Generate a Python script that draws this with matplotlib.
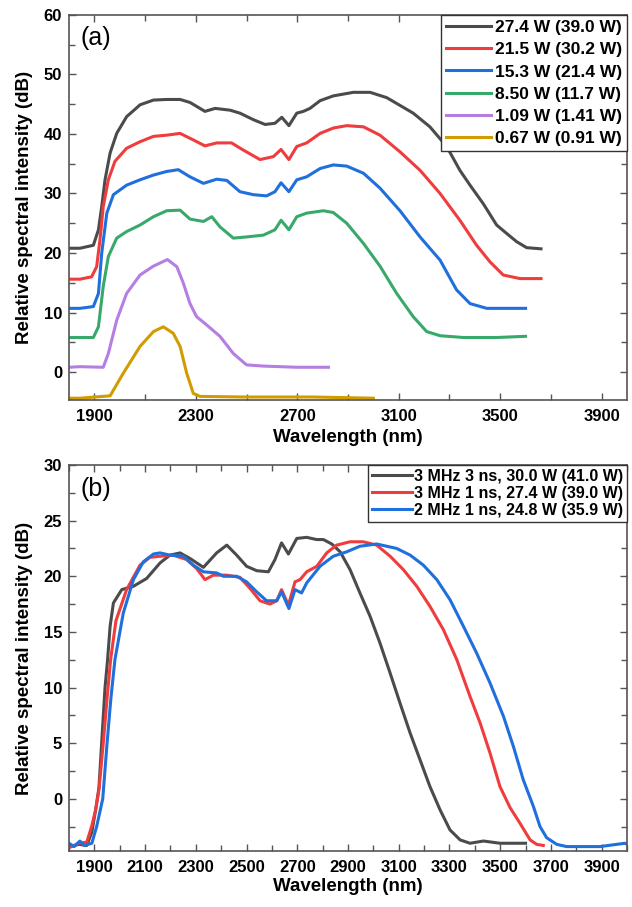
import matplotlib
matplotlib.use("Agg")
import matplotlib.pyplot as plt
from matplotlib.ticker import FixedLocator, MultipleLocator

plt.rcParams["font.family"] = ["Liberation Sans", "DejaVu Sans"]
plt.rcParams["font.weight"] = "bold"

# ---- panel (a): power series ----
A_LABELS = ["27.4 W (39.0 W)", "21.5 W (30.2 W)", "15.3 W (21.4 W)",
            "8.50 W (11.7 W)", "1.09 W (1.41 W)", "0.67 W (0.91 W)"]
A_XTICKS = [1900, 2300, 2700, 3100, 3500, 3900]
A_XMINOR = [2100, 2500, 2900, 3300, 3700]

A_GRAY_X = [1800, 1843, 1896, 1916, 1929, 1942, 1962, 1988, 2027, 2080, 2133, 2185, 2238, 2277,
            2336, 2376, 2435, 2474, 2527, 2573, 2612, 2639, 2667, 2698, 2724, 2750, 2790, 2842,
            2921, 2987, 3053, 3105, 3157, 3223, 3289, 3341, 3381, 3433, 3486, 3525, 3565, 3604, 3661]
A_GRAY_Y = [20.8, 20.8, 21.3, 23.9, 27.8, 32.3, 36.8, 40.1, 42.9, 44.9, 45.7, 45.8, 45.8, 45.3,
            43.8, 44.3, 44.0, 43.5, 42.4, 41.6, 41.8, 42.8, 41.4, 43.5, 43.8, 44.3, 45.6, 46.4,
            47.0, 47.0, 46.1, 44.8, 43.5, 41.2, 37.9, 33.9, 31.4, 28.3, 24.7, 23.3, 21.9, 20.9, 20.7]

A_RED_X = [1800, 1843, 1889, 1909, 1922, 1935, 1955, 1981, 2027, 2080, 2133, 2185, 2238, 2290,
           2336, 2382, 2441, 2487, 2553, 2606, 2636, 2667, 2698, 2737, 2790, 2842, 2895, 2961,
           3026, 3105, 3184, 3263, 3341, 3407, 3460, 3512, 3578, 3661]
A_RED_Y = [15.6, 15.6, 16.0, 17.7, 22.2, 27.8, 32.3, 35.4, 37.6, 38.7, 39.6, 39.8, 40.1, 39.0,
           38.0, 38.5, 38.5, 37.3, 35.7, 36.2, 37.4, 35.7, 37.9, 38.5, 40.1, 41.0, 41.4, 41.2,
           39.8, 37.0, 33.9, 30.0, 25.5, 21.3, 18.5, 16.3, 15.7, 15.7]

A_BLUE_X = [1800, 1843, 1896, 1916, 1929, 1949, 1975, 2027, 2080, 2133, 2185, 2231, 2277, 2330,
            2382, 2422, 2474, 2527, 2579, 2612, 2636, 2667, 2698, 2737, 2790, 2842, 2895, 2961,
            3026, 3105, 3184, 3263, 3328, 3381, 3447, 3525, 3600]
A_BLUE_Y = [10.7, 10.7, 11.0, 13.2, 20.0, 26.7, 29.8, 31.4, 32.3, 33.1, 33.7, 34.0, 32.8, 31.7,
            32.4, 32.2, 30.3, 29.8, 29.6, 30.3, 31.8, 30.3, 32.3, 32.8, 34.2, 34.8, 34.6, 33.4,
            30.9, 27.1, 22.7, 18.8, 13.8, 11.5, 10.7, 10.7, 10.7]

A_GREEN_X = [1800, 1843, 1896, 1916, 1935, 1955, 1988, 2027, 2080, 2133, 2185, 2238, 2277, 2330,
             2363, 2395, 2448, 2500, 2566, 2612, 2636, 2667, 2698, 2737, 2803, 2842, 2895, 2961,
             3026, 3092, 3157, 3210, 3263, 3355, 3486, 3600]
A_GREEN_Y = [5.8, 5.8, 5.8, 7.6, 14.4, 19.4, 22.5, 23.6, 24.7, 26.1, 27.1, 27.2, 25.7, 25.3,
             26.1, 24.4, 22.5, 22.7, 23.0, 23.9, 25.5, 23.9, 26.1, 26.7, 27.1, 26.8, 25.0, 21.6,
             17.8, 13.2, 9.3, 6.8, 6.1, 5.8, 5.8, 6.0]

A_PURPLE_X = [1800, 1843, 1935, 1955, 1988, 2027, 2080, 2133, 2188, 2225, 2251, 2277, 2303, 2343,
              2395, 2448, 2500, 2566, 2698, 2823]
A_PURPLE_Y = [0.8, 0.9, 0.8, 3.1, 8.7, 13.2, 16.3, 17.8, 18.9, 17.7, 14.9, 11.5, 9.3, 7.9,
              6.0, 3.1, 1.2, 1.0, 0.8, 0.8]

A_GOLD_X = [1800, 1843, 1962, 2014, 2080, 2133, 2172, 2211, 2238, 2264, 2290, 2317, 2500, 2763, 3000]
A_GOLD_Y = [-4.4, -4.4, -4.0, -0.2, 4.3, 6.8, 7.6, 6.5, 4.3, -0.2, -3.6, -4.1, -4.2, -4.2, -4.4]

# ---- panel (b): repetition rate / pulse width ----
B_LABELS = ["3 MHz 3 ns, 30.0 W (41.0 W)", "3 MHz 1 ns, 27.4 W (39.0 W)",
            "2 MHz 1 ns, 24.8 W (35.9 W)"]
B_XTICKS = [1900, 2100, 2300, 2500, 2700, 2900, 3100, 3300, 3500, 3700, 3900]
B_XMINOR = [1800, 2000, 2200, 2400, 2600, 2800, 3000, 3200, 3400, 3600, 3800, 4000]

B_GRAY_X = [1800, 1840, 1870, 1890, 1905, 1918, 1930, 1942, 1952, 1962, 1975, 2008, 2054, 2106,
            2159, 2198, 2238, 2277, 2330, 2382, 2422, 2461, 2500, 2540, 2586, 2612, 2638, 2665,
            2698, 2737, 2776, 2803, 2836, 2869, 2908, 2947, 2987, 3026, 3066, 3105, 3145, 3184,
            3223, 3263, 3302, 3342, 3381, 3434, 3499, 3600]
B_GRAY_Y = [-4.3, -4.1, -4.2, -3.0, -1.0, 1.0, 5.5, 10.0, 12.5, 15.5, 17.6, 18.8, 19.1, 19.8,
            21.2, 21.9, 22.1, 21.6, 20.8, 22.1, 22.8, 21.9, 20.9, 20.5, 20.4, 21.5, 23.0, 22.0,
            23.4, 23.5, 23.3, 23.3, 22.9, 22.2, 20.6, 18.5, 16.4, 14.0, 11.3, 8.6, 5.9, 3.5,
            1.1, -1.0, -2.8, -3.7, -4.0, -3.8, -4.0, -4.0]

B_RED_X = [1800, 1840, 1870, 1889, 1905, 1918, 1935, 1950, 1964, 1985, 2027, 2080, 2119, 2159,
           2211, 2264, 2303, 2336, 2369, 2422, 2474, 2514, 2553, 2592, 2619, 2638, 2665, 2691,
           2711, 2737, 2777, 2816, 2855, 2908, 2960, 3013, 3066, 3118, 3171, 3223, 3276, 3329,
           3381, 3421, 3460, 3499, 3539, 3578, 3618, 3644, 3670]
B_RED_Y = [-4.4, -4.0, -3.9, -2.5, -1.0, 0.8, 5.0, 9.0, 12.5, 16.0, 18.8, 21.0, 21.7, 21.8,
           21.9, 21.5, 20.7, 19.7, 20.1, 20.1, 19.9, 18.9, 17.8, 17.5, 17.8, 18.8, 17.4, 19.5,
           19.7, 20.4, 20.9, 22.1, 22.8, 23.1, 23.1, 22.8, 21.8, 20.6, 19.1, 17.3, 15.2, 12.5,
           9.2, 6.8, 4.1, 1.1, -0.8, -2.2, -3.7, -4.1, -4.2]

B_BLUE_X = [1800, 1820, 1843, 1860, 1890, 1909, 1933, 1950, 1965, 1981, 2014, 2054, 2093, 2133,
            2159, 2198, 2251, 2290, 2330, 2382, 2409, 2461, 2500, 2540, 2579, 2619, 2638, 2667,
            2691, 2717, 2737, 2790, 2842, 2895, 2947, 3013, 3092, 3145, 3197, 3250, 3302, 3355,
            3407, 3460, 3513, 3552, 3591, 3631, 3657, 3683, 3723, 3762, 3828, 3894, 3959, 3992, 4000]
B_BLUE_Y = [-4.0, -4.3, -3.8, -4.2, -4.0, -2.5, 0.0, 5.0, 9.0, 12.5, 16.7, 19.7, 21.3, 22.0,
            22.1, 21.9, 21.8, 21.0, 20.4, 20.3, 20.0, 20.0, 19.5, 18.6, 17.8, 17.8, 18.6, 17.1,
            18.8, 18.5, 19.4, 20.9, 21.8, 22.2, 22.7, 22.9, 22.5, 21.9, 21.0, 19.7, 17.9, 15.5,
            13.1, 10.4, 7.4, 4.7, 1.7, -0.7, -2.5, -3.5, -4.1, -4.3, -4.3, -4.3, -4.1, -4.0, -4.1]

GRAY = "#4b4b4b"
RED = "#f03c3c"
BLUE = "#1f6fdc"
GREEN = "#38a96a"
PURPLE = "#b47ee3"
GOLD = "#d09c00"
SPINE = "#555555"


def style_axes(ax, x_major, x_minor, y_major, y_minor):
    ax.set_xlim(1800, 4000)
    ax.xaxis.set_major_locator(FixedLocator(x_major))
    ax.xaxis.set_minor_locator(FixedLocator(x_minor))
    ax.yaxis.set_major_locator(MultipleLocator(y_major))
    ax.yaxis.set_minor_locator(MultipleLocator(y_minor))
    ax.tick_params(which="both", direction="in", top=True, right=True,
                   color=SPINE, width=1.0, labelsize=12, pad=5)
    ax.tick_params(axis="x", which="both", pad=6.5)
    ax.tick_params(which="major", length=5)
    ax.tick_params(which="minor", length=4)
    for lab in ax.get_xticklabels() + ax.get_yticklabels():
        lab.set_fontweight("bold")
    for sp in ax.spines.values():
        sp.set_color(SPINE)
        sp.set_linewidth(1.2)
    ax.set_xlabel("Wavelength (nm)", fontsize=13.5, fontweight="bold")
    ax.set_ylabel("Relative spectral intensity (dB)", fontsize=13.5, fontweight="bold")


fig = plt.figure(figsize=(6.32, 9.07), dpi=100)
ax_a = fig.add_axes([0.1092, 0.5590, 0.8829, 0.4245])
ax_b = fig.add_axes([0.1092, 0.0617, 0.8829, 0.4256])

lw = 2.2
series_a = [
    (A_GRAY_X, A_GRAY_Y, GRAY),
    (A_RED_X, A_RED_Y, RED),
    (A_BLUE_X, A_BLUE_Y, BLUE),
    (A_GREEN_X, A_GREEN_Y, GREEN),
    (A_PURPLE_X, A_PURPLE_Y, PURPLE),
    (A_GOLD_X, A_GOLD_Y, GOLD),
]
for (xs, ys, c), lab in zip(series_a, A_LABELS):
    ax_a.plot(xs, ys, color=c, lw=lw, label=lab)
ax_a.set_ylim(-4.7, 60)
style_axes(ax_a, A_XTICKS, A_XMINOR, 10, 5)
ax_a.xaxis.set_label_coords(0.5, -0.076)
ax_a.yaxis.set_label_coords(-0.064, 0.5)
ax_a.text(0.021, 0.94, "(a)", transform=ax_a.transAxes, fontsize=18,
          fontweight="normal", va="center", ha="left")
leg_a = ax_a.legend(loc="upper right", bbox_to_anchor=(1, 1), borderaxespad=0,
                    fancybox=False, framealpha=1, edgecolor="#333333",
                    prop={"size": 12.5, "weight": "bold"}, handlelength=2.6,
                    handletextpad=0.2, labelspacing=0.4, borderpad=0.3)
leg_a.get_frame().set_linewidth(1.0)

series_b = [
    (B_GRAY_X, B_GRAY_Y, GRAY),
    (B_RED_X, B_RED_Y, RED),
    (B_BLUE_X, B_BLUE_Y, BLUE),
]
for (xs, ys, c), lab in zip(series_b, B_LABELS):
    ax_b.plot(xs, ys, color=c, lw=lw, label=lab)
ax_b.set_ylim(-4.7, 30)
style_axes(ax_b, B_XTICKS, B_XMINOR, 5, 2.5)
ax_b.xaxis.set_label_coords(0.5, -0.07)
ax_b.yaxis.set_label_coords(-0.064, 0.5)
ax_b.text(0.021, 0.938, "(b)", transform=ax_b.transAxes, fontsize=18,
          fontweight="normal", va="center", ha="left")
leg_b = ax_b.legend(loc="upper right", bbox_to_anchor=(1, 1), borderaxespad=0,
                    fancybox=False, framealpha=1, edgecolor="#333333",
                    prop={"size": 11.5, "weight": "bold"}, handlelength=2.5,
                    handletextpad=0.1, labelspacing=0.12, borderpad=0.25)
leg_b.get_frame().set_linewidth(1.0)

fig.savefig("out.png", dpi=100)
plt.close(fig)
